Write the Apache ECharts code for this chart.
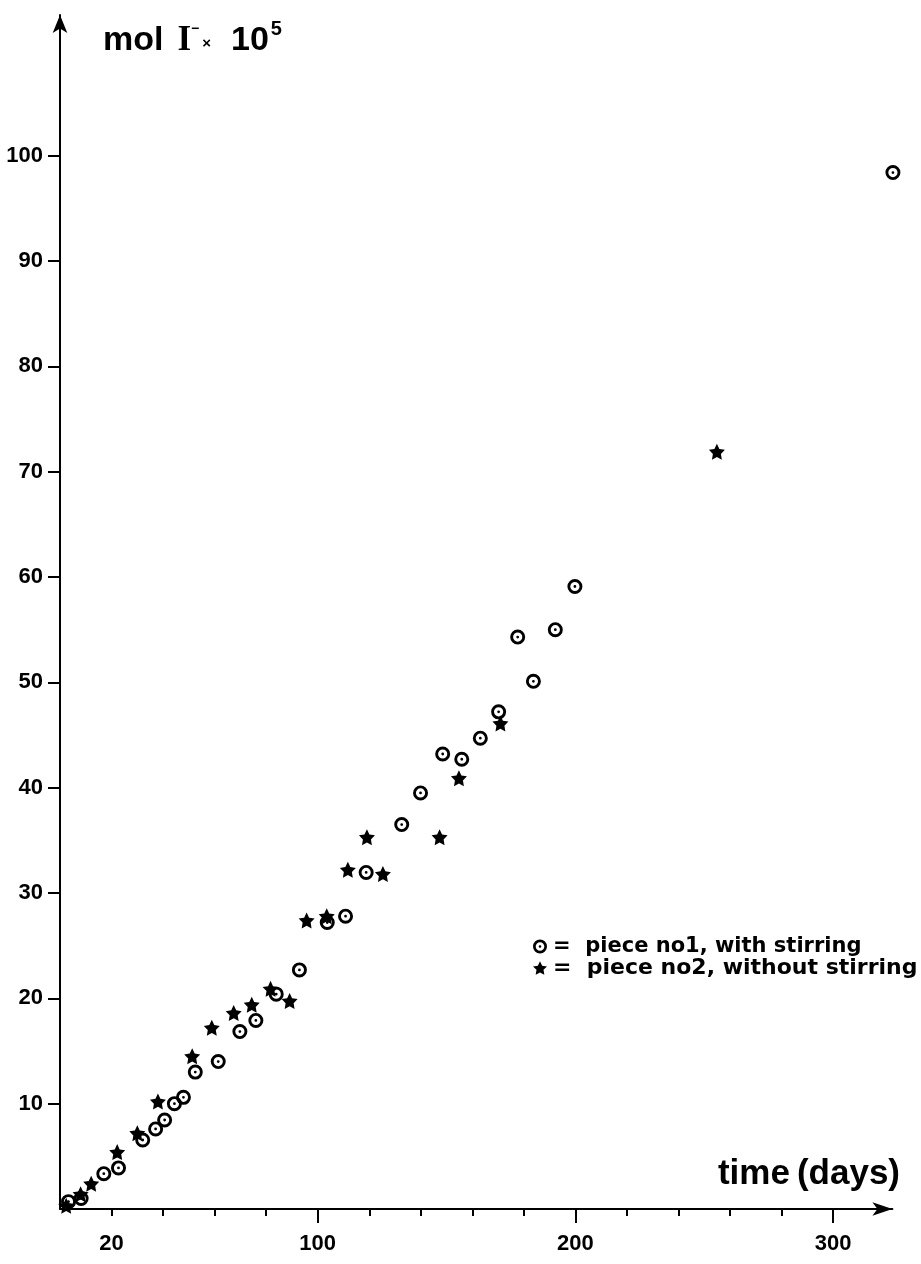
<!DOCTYPE html>
<html>
<head>
<meta charset="utf-8">
<script src="https://cdn.jsdelivr.net/npm/echarts@6/dist/echarts.min.js"></script>
<style>
  html, body { margin: 0; padding: 0; background: #fff; }
  #chart { width: 921px; height: 1264px; }
</style>
</head>
<body>
<div id="chart"></div>
<script>
// Piece no 1 (with stirring): time in days, concentration in mol I- x 10^5
const days1 = [3.3, 8.2, 17.0, 22.7, 32.1, 37.1, 40.6, 44.4, 47.9, 52.5, 61.4, 69.8, 76.0, 83.9, 92.9,
               103.7, 110.8, 118.8, 132.6, 139.9, 148.5, 155.9, 163.1, 170.2, 177.6, 183.7, 192.2, 199.8, 323.2];
const conc1 = [0.7, 1.0, 3.35, 3.9, 6.55, 7.6, 8.45, 10.0, 10.6, 13.0, 14.0, 16.85, 17.9, 20.4, 22.7,
               27.2, 27.8, 31.95, 36.5, 39.5, 43.2, 42.7, 44.7, 47.2, 54.3, 50.1, 55.0, 59.1, 98.4];

// Piece no 2 (without stirring)
const days2 = [2.4, 8.0, 12.1, 22.2, 30.0, 38.0, 51.3, 58.9, 67.4, 74.4, 81.7, 89.1, 95.7, 103.5,
               111.7, 119.1, 125.3, 147.3, 154.8, 170.9, 254.9];
const conc2 = [0.3, 1.4, 2.4, 5.4, 7.2, 10.2, 14.5, 17.2, 18.6, 19.4, 20.9, 19.75, 27.4, 27.8,
               32.2, 35.3, 31.8, 35.3, 40.9, 46.1, 71.9];

// Tick positions and labels
const yTicks = [10, 20, 30, 40, 50, 60, 70, 80, 90, 100];
const xMinorTicks = [20, 40, 60, 80, 120, 140, 160, 180, 220, 240, 260, 280];
const xMajorTicks = [100, 200, 300];
const xMinorLabels = [20];

const name1 = '=  piece no1, with stirring';
const name2 = '=  piece no2, without stirring';

// Ring with a centre dot, and a five-pointed star
const ringDot = 'path://M0,-7A7,7,0,1,1,0,7A7,7,0,1,1,0,-7Z M0,-4.3A4.3,4.3,0,1,0,0,4.3A4.3,4.3,0,1,0,0,-4.3Z M0,-1.3A1.3,1.3,0,1,1,0,1.3A1.3,1.3,0,1,1,0,-1.3Z';
const star = 'path://M0,-10L2.94,-4.05L9.51,-3.09L4.76,1.55L5.88,8.09L0,5L-5.88,8.09L-4.76,1.55L-9.51,-3.09L-2.94,-4.05Z';

const ink = '#000';
const sans = '"Liberation Sans", Arial, sans-serif';
const wide = '"DejaVu Sans", sans-serif';

const pairs = (xs, ys) => xs.map((x, i) => [x, ys[i]]);

const chart = echarts.init(document.getElementById('chart'), null, { renderer: 'canvas' });

const axisLineStyle = { color: ink, width: 2 };
const tickFont = { fontFamily: sans, fontWeight: 'bold', fontSize: 22, color: ink };
const legendFont = { fontFamily: wide, fontWeight: 'bold', color: ink, padding: [0, 0, 0, 1] };

chart.setOption({
  backgroundColor: '#fff',
  animation: false,
  title: [
    {
      text: '{a|mol}{i|I}{m|−}{x|×}{b|10}{p|5}',
      left: 103,
      top: 18,
      padding: 0,
      textStyle: {
        rich: {
          a: { fontFamily: sans, fontWeight: 'bold', fontSize: 34, color: ink, lineHeight: 40, verticalAlign: 'bottom' },
          i: { fontFamily: '"Liberation Serif", serif', fontWeight: 'bold', fontSize: 35, color: ink, lineHeight: 40, verticalAlign: 'bottom', padding: [0, 0, 0, 14] },
          m: { fontFamily: sans, fontWeight: 'bold', fontSize: 14, color: ink, lineHeight: 40, verticalAlign: 'top', padding: [4, 0, 0, 0] },
          x: { fontFamily: sans, fontWeight: 'bold', fontSize: 15, color: ink, lineHeight: 40, verticalAlign: 'bottom', padding: [0, 20, 7, 3] },
          b: { fontFamily: sans, fontWeight: 'bold', fontSize: 34, color: ink, lineHeight: 40, verticalAlign: 'bottom' },
          p: { fontFamily: sans, fontWeight: 'bold', fontSize: 20, color: ink, lineHeight: 40, verticalAlign: 'top', padding: [1, 0, 0, 2] }
        }
      }
    },
    {
      text: 'time\u2009(days)',
      right: 21,
      top: 1157,
      padding: 0,
      textStyle: { fontFamily: sans, fontWeight: 'bold', fontSize: 35, color: ink }
    }
  ],
  legend: {
    orient: 'vertical',
    left: 533,
    top: 936,
    itemWidth: 14,
    itemHeight: 14,
    itemGap: 0,
    selectedMode: false,
    padding: 0,
    textStyle: Object.assign({ fontSize: 21 }, legendFont),
    data: [
      { name: name1, icon: ringDot, textStyle: Object.assign({ fontSize: 21 }, legendFont) },
      { name: name2, icon: star, textStyle: Object.assign({ fontSize: 22 }, legendFont) }
    ]
  },
  grid: { left: 60, top: 15, width: 832.4, height: 1194, containLabel: false },
  xAxis: [
    {
      type: 'value',
      min: 0,
      max: 323,
      position: 'bottom',
      axisLine: { show: true, lineStyle: axisLineStyle, symbol: ['none', 'arrow'], symbolSize: [10, 20] },
      axisTick: { show: true, inside: false, length: 7, lineStyle: { color: ink, width: 2 }, customValues: xMinorTicks.concat(xMajorTicks) },
      axisLabel: Object.assign({ show: true, customValues: xMinorLabels, margin: 24 }, tickFont),
      splitLine: { show: false }
    },
    {
      type: 'value',
      min: 0,
      max: 323,
      position: 'bottom',
      axisLine: { show: false },
      axisTick: { show: true, inside: false, length: 14, lineStyle: { color: ink, width: 2 }, customValues: xMajorTicks },
      axisLabel: Object.assign({ show: true, customValues: xMajorTicks, margin: 24 }, tickFont),
      splitLine: { show: false }
    }
  ],
  yAxis: {
    type: 'value',
    min: 0,
    max: 113.36,
    axisLine: { show: true, lineStyle: axisLineStyle, symbol: ['none', 'arrow'], symbolSize: [11, 18] },
    axisTick: { show: true, inside: false, length: 12, lineStyle: { color: ink, width: 2 }, customValues: yTicks },
    axisLabel: Object.assign({ show: true, customValues: yTicks, margin: 17 }, tickFont),
    splitLine: { show: false }
  },
  series: [
    {
      name: name1,
      type: 'scatter',
      xAxisIndex: 0,
      symbol: ringDot,
      symbolSize: 15,
      clip: false,
      itemStyle: { color: ink, opacity: 1 },
      data: pairs(days1, conc1)
    },
    {
      name: name2,
      type: 'scatter',
      xAxisIndex: 0,
      symbol: star,
      symbolSize: 16,
      clip: false,
      itemStyle: { color: ink, opacity: 1 },
      data: pairs(days2, conc2)
    }
  ]
});
</script>
</body>
</html>
